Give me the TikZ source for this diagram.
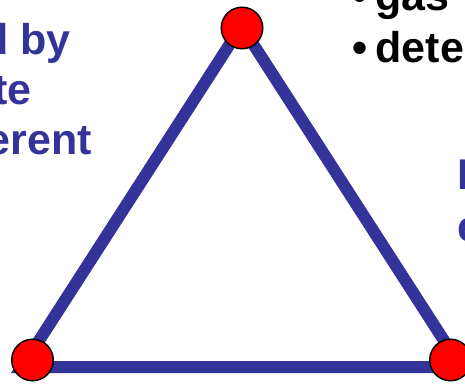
\documentclass[tikz,border=0pt]{standalone}
\usepackage{fontspec}
\setmainfont{Liberation Sans}
\usepackage{tikz}
\usetikzlibrary{calc}
\definecolor{blau}{HTML}{333399}
\definecolor{rot}{HTML}{FF0000}
\tikzset{
  kante/.style={blau,line width=12pt,line join=miter},
  ecke/.style={circle,fill=rot,draw=black,line width=1.5pt,minimum size=41.5pt,inner sep=0pt},
  schrift/.style={inner sep=0pt,font=\fontsize{43}{50}\selectfont\bfseries},
  blautext/.style={schrift,text=blau},
  schwarztext/.style={schrift,text=black},
}

\begin{document}
\begin{tikzpicture}[x=1pt,y=1pt]
  \useasboundingbox (0,0) rectangle (465,385);
  \clip (0,0) rectangle (465,385);
  % Dreieck
  \coordinate (spitze) at (241.5,359);
  \coordinate (links) at (22,18);
  \coordinate (rechts) at (461,18);
  \draw[kante] (spitze)--(links)--(rechts)--cycle;
  \node[ecke] (oben) at (242,357) {};
  \node[ecke] (unten-l) at (32.5,25) {};
  \node[ecke] (unten-r) at (450.5,25) {};
  % Texte links
  \node[blautext,anchor=base east] (t1) at (71,330) {d by};
  \node[blautext,anchor=base east] (t2) at (32,280) {te};
  \node[blautext,anchor=base east] (t3) at (92,230) {erent};
  % Texte rechts
  \node[schwarztext,anchor=base west] (p1) at (352.5,374) {\textbullet};
  \node[schwarztext,anchor=base west] (r1) at (375.5,374) {gas};
  \node[schwarztext,anchor=base west] (p2) at (352.5,322) {\textbullet};
  \node[schwarztext,anchor=base west] (r2) at (375.5,322) {dete};
  \node[blautext,anchor=base west] (r3) at (457.3,195) {I};
  \node[blautext,anchor=base west] (r4) at (457,143) {e};
\end{tikzpicture}
\end{document}
